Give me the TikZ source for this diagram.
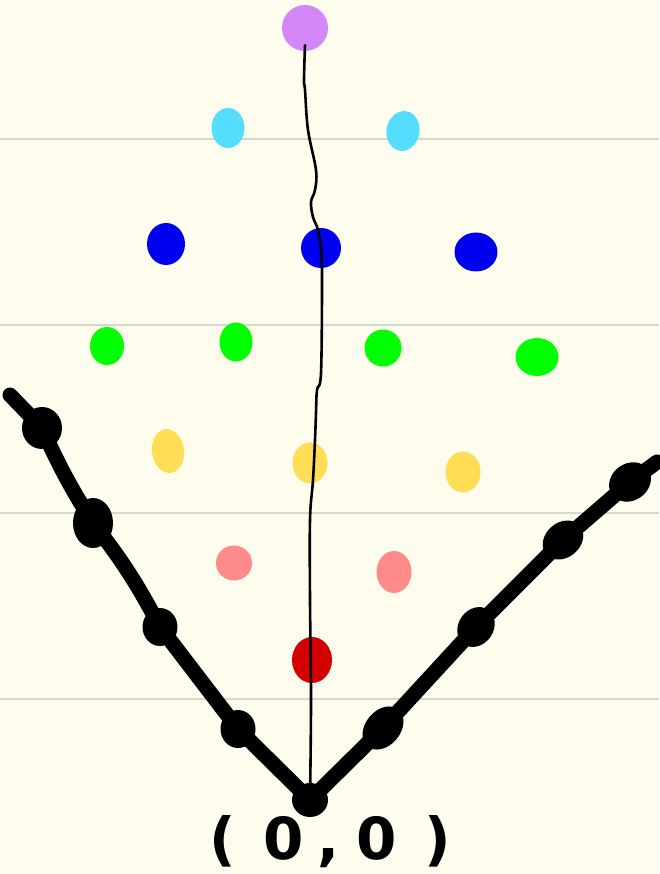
\documentclass[tikz,border=0pt]{standalone}
\usepackage{fontspec}
\setmainfont{DejaVu Sans}
\usetikzlibrary{shapes.geometric}
\definecolor{paper}{HTML}{FEFCEC}
\definecolor{rule}{HTML}{D9D6CB}
\definecolor{lilac}{HTML}{D488F8}
\definecolor{sky}{HTML}{55DDFF}
\definecolor{deepblue}{HTML}{0000F0}
\definecolor{lime}{HTML}{00FF00}
\definecolor{butter}{HTML}{FFDD55}
\definecolor{salmon}{HTML}{FF8A8A}
\definecolor{crimson}{HTML}{D40000}
\tikzset{
  dot/.style={ellipse,fill=#1,inner sep=0pt,minimum width=36pt,minimum height=40pt},
  blob/.style={ellipse,fill=black,inner sep=0pt,minimum width=36pt,minimum height=40pt},
  arm/.style={line width=15pt,line cap=round,line join=round},
  wire/.style={line width=2.6pt,line cap=round}
}
\begin{document}
\begin{tikzpicture}[x=1pt,y=-1pt]
\fill[paper] (0,0) rectangle (659,874);
\useasboundingbox (0,0) rectangle (659,874);
\foreach \y in {139,325,513,699} \draw[rule,line width=1.5pt] (0,\y) -- (659,\y);
% dots, row by row
\node[dot=lilac,minimum width=46pt,minimum height=46pt] (top) at (305,28) {};
\node[dot=sky,minimum width=33pt] (c1) at (228,128) {};
\node[dot=sky,minimum width=33pt,rotate=-10] (c2) at (403,131) {};
\node[dot=deepblue,minimum width=38pt,minimum height=42pt] (b1) at (166,244) {};
\node[dot=deepblue,minimum width=40pt,minimum height=40pt] (b2) at (321,248) {};
\node[dot=deepblue,minimum width=43pt,minimum height=39pt] (b3) at (476,252) {};
\node[dot=lime,minimum width=34pt,minimum height=38pt] (g1) at (107,346) {};
\node[dot=lime,minimum width=33pt,minimum height=39pt] (g2) at (236,342) {};
\node[dot=lime,minimum width=37pt,minimum height=37pt] (g3) at (383,348) {};
\node[dot=lime,minimum width=43pt,minimum height=38pt] (g4) at (537,357) {};
\node[dot=butter,minimum width=32pt,minimum height=44pt,rotate=8] (y1) at (168,451) {};
\node[dot=butter,minimum width=35pt,minimum height=41pt] (y2) at (310,463) {};
\node[dot=butter,minimum width=35pt,minimum height=41pt] (y3) at (463,472) {};
\node[dot=salmon,minimum width=36pt,minimum height=35pt] (p1) at (234,563) {};
\node[dot=salmon,minimum width=35pt,minimum height=42pt] (p2) at (394,572) {};
\node[dot=crimson,minimum width=40pt,minimum height=46pt] (r1) at (312,660) {};
% the V
\coordinate (lend) at (10,395);
\coordinate (rend) at (657,462);
\node[blob,minimum width=40pt,minimum height=42pt] (l1) at (42,428) {};
\node[blob,minimum width=40pt,minimum height=50pt] (l2) at (93,523) {};
\node[blob,minimum width=35pt,minimum height=38pt] (l3) at (160,627) {};
\node[blob,minimum width=35pt,minimum height=38pt] (l4) at (238,729) {};
\node[blob,minimum width=36pt,minimum height=34pt] (o) at (310,800) {};
\node[blob,minimum width=35pt,minimum height=48pt,rotate=-40] (r4) at (383,728) {};
\node[blob,minimum width=35pt,minimum height=42pt,rotate=-35] (r3) at (476,627) {};
\node[blob,minimum width=35pt,minimum height=44pt,rotate=-50] (r2) at (563,540) {};
\node[blob,minimum width=37pt,minimum height=44pt,rotate=-55] (r1b) at (630,482) {};
\draw[arm] (lend) -- (l1.center) to[bend right=4] (l2.center) to[bend left=5] (l3.center)
  -- (l4.center) -- (o.center) -- (r4.center) -- (r3.center) -- (r2.center) -- (r1b.center) -- (rend);
% the string
\draw[wire] plot[smooth,tension=.6] coordinates {([yshift=6pt]top.south) (304,80) (305,90)
  (308,130) (316,170) (315,190) (311,202) (313,217) (318,230) (321,250) (322,280)
  (321,373) (317,390) (316,413) (315,440) (313,480) (310,520) (310,600) (311,700) (o.center)};
\node[font=\fontsize{58}{62}\selectfont\bfseries] (lbl) at (330,842)
  {(\hspace{28pt}0\hspace{14pt},\hspace{16pt}0\hspace{28pt})};
\end{tikzpicture}
\end{document}
